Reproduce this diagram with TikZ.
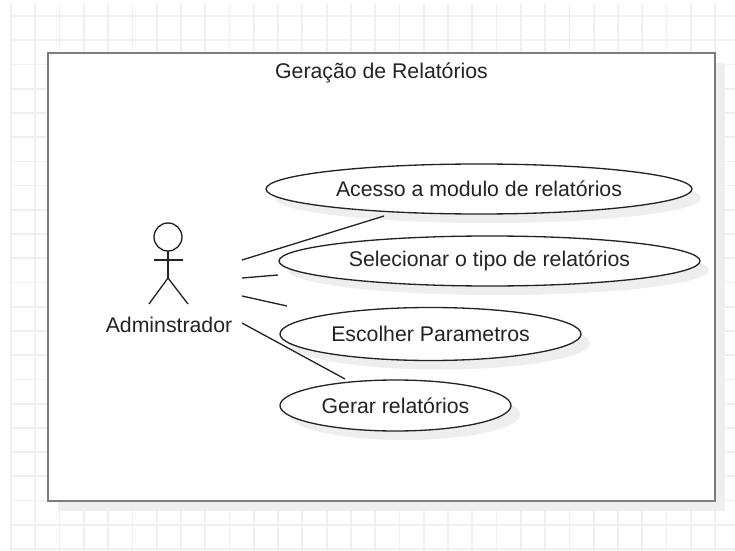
\documentclass[tikz,border=0pt]{standalone}
\usepackage{fontspec}
\setmainfont{Liberation Sans}
\usetikzlibrary{positioning}
\usetikzlibrary{shapes.geometric}
\definecolor{gridColor}{RGB}{240,240,240}
\definecolor{frameColor}{RGB}{125,125,125}
\definecolor{shadowColor}{RGB}{238,238,238}
\definecolor{inkColor}{RGB}{35,35,35}
\tikzset{diagram/.style={x=.02cm, y=-.02cm}}
\tikzstyle{gridLine} = [color=gridColor, line width=1pt]
\tikzstyle{frameStyle} = [color=frameColor, fill=white, line width=1.3pt]
\tikzstyle{shadowStyle} = [color=shadowColor, fill=shadowColor]
\tikzstyle{useCase} = [ellipse, draw=inkColor, fill=white, line width=.75pt, inner sep=0pt, font=\fontsize{12.1}{14}\selectfont, text=inkColor]
\tikzstyle{actorLine} = [color=inkColor, line width=.75pt]
\tikzstyle{assocLine} = [color=inkColor, line width=.75pt]
\tikzstyle{plainText} = [font=\fontsize{12.1}{14}\selectfont, text=inkColor, inner sep=0pt]
\newcommand{\useCaseShadow}[4]{\fill [shadowStyle] (#1 + 9, #2 + 9) ellipse ({#3 * .02cm} and {#4 * .02cm});}
\newcommand{\useCaseNode}[6]{
  \useCaseShadow{#2}{#3}{#4 / 2}{#5 / 2}
  \node [useCase, minimum width = #4 * .02cm, minimum height = #5 * .02cm] (#1) at (#2, #3) {#6};
}
\begin{document}
\begin{tikzpicture}[diagram]
  \useasboundingbox (0, 0) rectangle (735, 551);
  % background grid
  \foreach \column in {0,...,29} {
    \pgfmathsetmacro{\var}{11 + 24.28 * \column}
    \draw [gridLine] (\var, 4) -- (\var, 551);
  }
  \foreach \row in {0,...,22} {
    \pgfmathsetmacro{\var}{16 + 24.23 * \row}
    \draw [gridLine] (10, \var) -- (735, \var);
  }
  % system boundary
  \fill [shadowStyle] (58, 63) rectangle (725, 511);
  \filldraw [frameStyle] (48, 53) rectangle (715, 501);
  \node [plainText] (title) at (381.5, 73) {Geração de Relatórios};
  % use cases
  \useCaseNode{modulo}{479}{189}{426}{50}{Acesso a modulo de relatórios}
  \useCaseNode{tipo}{489.5}{261}{421}{50}{Selecionar o tipo de relatórios}
  \useCaseNode{parametros}{430.5}{334}{301}{53}{Escolher Parametros}
  \useCaseNode{gerar}{395.5}{405.5}{231}{51}{Gerar relatórios}
  % actor
  \draw [actorLine] (168, 237) circle (14);
  \draw [actorLine] (168, 251) -- (168, 278);
  \draw [actorLine] (154, 260) -- (183, 260);
  \draw [actorLine] (149, 304) -- (168, 278) -- (188, 304);
  \node [plainText] (actorName) at (169, 325) {Adminstrador};
  % associations
  \coordinate (startModulo) at (242, 260);
  \coordinate (endModulo) at (384, 216);
  \coordinate (startTipo) at (242, 278);
  \coordinate (endTipo) at (278, 275);
  \coordinate (startParametros) at (242, 296);
  \coordinate (endParametros) at (287, 306);
  \coordinate (startGerar) at (242, 323);
  \coordinate (endGerar) at (345, 379);
  \draw [assocLine] (startModulo) -- (endModulo);
  \draw [assocLine] (startTipo) -- (endTipo);
  \draw [assocLine] (startParametros) -- (endParametros);
  \draw [assocLine] (startGerar) -- (endGerar);
\end{tikzpicture}
\end{document}
